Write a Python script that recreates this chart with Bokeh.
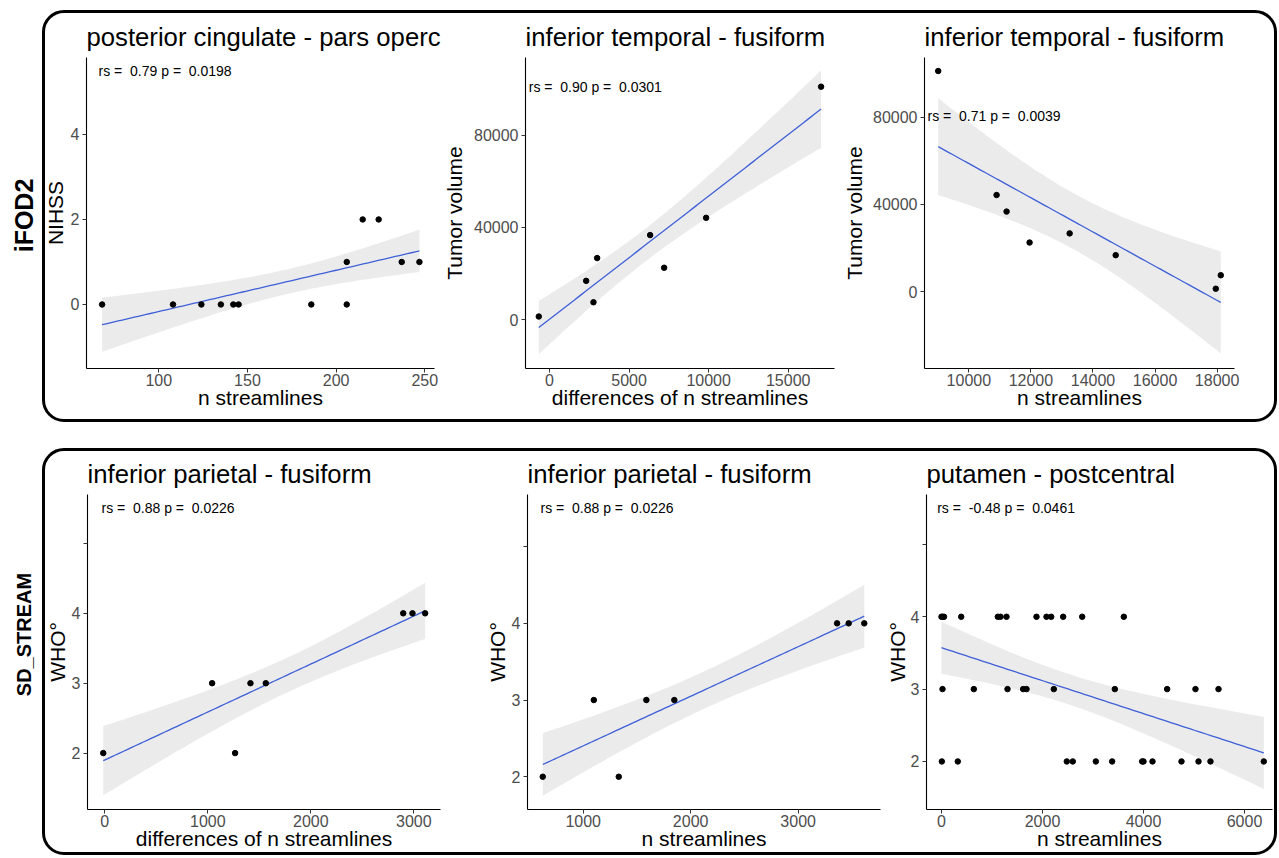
import numpy as np
from bokeh.plotting import figure
from bokeh.layouts import row, column, Spacer
from bokeh.models import Range1d, FixedTicker
from bokeh.core.properties import value
from bokeh.embed import file_html
from bokeh.resources import INLINE

FONT = "Liberation Sans"
NB = "\u00a0"

# ---------------- data ----------------
row_labels = ["iFOD2", "SD_STREAM"]

p1_title = "posterior cingulate - pars operc"
p1_x = [68, 108, 124, 135, 142, 145, 186, 206, 206, 215, 224, 237, 247]
p1_y = [0, 0, 0, 0, 0, 0, 0, 0, 1, 2, 2, 1, 1]
p1_xlabel, p1_ylabel = "n streamlines", "NIHSS"
p1_stat = "rs = " + NB + "0.79 p = " + NB + "0.0198"
p1_xticks, p1_yticks = [100, 150, 200, 250], [0, 2, 4]

p2_title = "inferior temporal - fusiform"
p2_x = [-672, 2305, 2764, 2996, 6325, 7205, 9843, 17067]
p2_y = [1300, 16800, 7500, 26700, 36700, 22500, 44200, 101200]
p2_xlabel, p2_ylabel = "differences of n streamlines", "Tumor volume"
p2_stat = "rs = " + NB + "0.90 p = " + NB + "0.0301"
p2_xticks, p2_yticks = [0, 5000, 10000, 15000], [0, 40000, 80000]

p3_title = "inferior temporal - fusiform"
p3_x = [9013, 10894, 11216, 11957, 13248, 14732, 17957, 18118]
p3_y = [101200, 44300, 36700, 22500, 26700, 16700, 1300, 7500]
p3_xlabel, p3_ylabel = "n streamlines", "Tumor volume"
p3_stat = "rs = " + NB + "0.71 p = " + NB + "0.0039"
p3_xticks, p3_yticks = [10000, 12000, 14000, 16000, 18000], [0, 40000, 80000]

p4_title = "inferior parietal - fusiform"
p4_x = [-15, 1042, 1265, 1414, 1563, 2897, 2987, 3110]
p4_y = [2, 3, 2, 3, 3, 4, 4, 4]
p4_xlabel, p4_ylabel = "differences of n streamlines", "WHO°"
p4_stat = "rs = " + NB + "0.88 p = " + NB + "0.0226"
p4_xticks, p4_yticks = [0, 1000, 2000, 3000], [2, 3, 4, 5]

p5_title = "inferior parietal - fusiform"
p5_x = [624, 1099, 1331, 1588, 1848, 3362, 3470, 3615]
p5_y = [2, 3, 2, 3, 3, 4, 4, 4]
p5_xlabel, p5_ylabel = "n streamlines", "WHO°"
p5_stat = "rs = " + NB + "0.88 p = " + NB + "0.0226"
p5_xticks, p5_yticks = [1000, 2000, 3000], [2, 3, 4, 5]

p6_title = "putamen - postcentral"
p6_x = [0, 25, 50, 390, 1115, 1168, 1287, 1881, 2079, 2172, 2409, 2786, 3610,
        20, 640, 1307, 1617, 1683, 2224, 3432, 4468, 5029, 5485,
        7, 323, 2481, 2600, 3056, 3379, 3973, 4000, 4178, 4752, 5089, 5326, 6382]
p6_y = [4] * 13 + [3] * 10 + [2] * 13
p6_xlabel, p6_ylabel = "n streamlines", "WHO°"
p6_stat = "rs = " + NB + "-0.48 p = " + NB + "0.0461"
p6_xticks, p6_yticks = [0, 2000, 4000, 6000], [2, 3, 4, 5]

# t quantiles (0.95) -> 90 % confidence band around the linear fit
T_Q = {6: 1.943180, 11: 1.795885, 33: 1.692360}


def fit_band(xs, ys, n=80):
    x = np.asarray(xs, float)
    y = np.asarray(ys, float)
    N = len(x)
    xm = x.mean()
    sxx = ((x - xm) ** 2).sum()
    b = ((x - xm) * (y - y.mean())).sum() / sxx
    a = y.mean() - b * xm
    res = y - (a + b * x)
    s = np.sqrt((res ** 2).sum() / (N - 2))
    gx = np.linspace(x.min(), x.max(), n)
    fit = a + b * gx
    se = s * np.sqrt(1.0 / N + (gx - xm) ** 2 / sxx)
    t = T_Q.get(N - 2, 1.645)
    return gx, fit, fit - t * se, fit + t * se


def panel(title, xs, ys, xlabel, ylabel, stat, xticks, yticks,
          xr, yr, stat_xy, w, h, bl, br, bt, bb, blank_top=False,
          ylab_standoff=2, shift=0):
    kw = {}
    if shift:
        kw["styles"] = {"margin-left": "-%dpx" % shift}
    p = figure(width=w, height=h, x_range=Range1d(*xr), y_range=Range1d(*yr),
               output_backend="svg", toolbar_location=None, title=title,
               min_border_left=bl, min_border_right=br,
               min_border_top=bt, min_border_bottom=bb, **kw)
    p.title.text_font = FONT
    p.title.text_font_size = "25.7px"
    p.title.text_font_style = "normal"
    p.title.text_color = "black"
    p.title.align = "left"
    p.title.standoff = 13
    p.grid.visible = False
    p.outline_line_color = None
    p.background_fill_color = "white"
    p.border_fill_color = None

    for ax in (p.xaxis[0], p.yaxis[0]):
        ax.axis_label_text_font = FONT
        ax.axis_label_text_font_size = "21px"
        ax.axis_label_text_font_style = "normal"
        ax.axis_label_text_color = "black"
        ax.major_label_text_font = FONT
        ax.major_label_text_font_size = "16px"
        ax.major_label_text_color = "#4D4D4D"
        ax.minor_tick_line_color = None
        ax.major_tick_out = 4
        ax.major_tick_in = 0
        ax.major_tick_line_color = "#333333"
        ax.axis_line_color = "black"
        ax.axis_line_width = 1.1
        ax.major_label_standoff = 3
    p.xaxis.major_label_standoff = 1
    p.xaxis.axis_label_standoff = -3
    p.yaxis.axis_label_standoff = ylab_standoff
    p.xaxis.axis_label = xlabel
    p.yaxis.axis_label = ylabel
    p.xaxis.ticker = FixedTicker(ticks=xticks)
    p.yaxis.ticker = FixedTicker(ticks=yticks)
    if blank_top:
        p.yaxis.major_label_overrides = {yticks[-1]: ""}

    gx, fit, lo, hi = fit_band(xs, ys)
    p.varea(x=gx, y1=lo, y2=hi, fill_color="#EBEBEB")
    p.line(gx, fit, line_color="#3F60D8", line_width=1.3)
    p.scatter(xs, ys, size=5.5, fill_color="black", line_color="black")
    p.text(x=[stat_xy[0]], y=[stat_xy[1]], text=[stat], text_font=value(FONT),
           text_font_size="14px", text_align="left", text_baseline="middle",
           text_color="black")
    return p


TOP_H, BOT_H = 406, 401

# top row: F1 39..442, F2 439..840, F3 839..1274
f1 = panel(p1_title, p1_x, p1_y, p1_xlabel, p1_ylabel, p1_stat, p1_xticks, p1_yticks,
           (59.2, 255.5), (-1.506, 5.81), (66, 5.49), 403, TOP_H, 47, 8, 44, 51,
           ylab_standoff=1, shift=6)
f2 = panel(p2_title, p2_x, p2_y, p2_xlabel, p2_ylabel, p2_stat, p2_xticks, p2_yticks,
           (-1507, 17910), (-21300, 113900), (-1300, 101000), 401, TOP_H, 86, 6, 44, 51,
           ylab_standoff=5, shift=3)
f3 = panel(p3_title, p3_x, p3_y, p3_xlabel, p3_ylabel, p3_stat, p3_xticks, p3_yticks,
           (8571, 18560), (-35300, 107400), (8668, 80700), 435, TOP_H, 85, 40, 44, 51,
           ylab_standoff=4, shift=1)

# bottom row: F4 42..445, F5 445..884, F6 882..1274
f4 = panel(p4_title, p4_x, p4_y, p4_xlabel, p4_ylabel, p4_stat, p4_xticks, p4_yticks,
           (-168, 3259), (1.193, 5.70), (-32, 5.5), 403, BOT_H, 45, 5, 41, 43, True,
           ylab_standoff=0, shift=3)
f5 = panel(p5_title, p5_x, p5_y, p5_xlabel, p5_ylabel, p5_stat, p5_xticks, p5_yticks,
           (482, 3766), (1.573, 5.68), (603, 5.5), 439, BOT_H, 82, 4, 41, 43, True,
           ylab_standoff=0)
f6 = panel(p6_title, p6_x, p6_y, p6_xlabel, p6_ylabel, p6_stat, p6_xticks, p6_yticks,
           (-297, 6554), (1.336, 5.69), (-85, 5.5), 392, BOT_H, 44, 2, 41, 43, True,
           ylab_standoff=-1, shift=2)


def row_label(text, h, yc, size):
    lab = figure(width=42, height=h, x_range=Range1d(0, 42), y_range=Range1d(0, h),
                 x_axis_type=None, y_axis_type=None, min_border=0,
                 output_backend="svg", toolbar_location=None)
    lab.grid.visible = False
    lab.outline_line_color = None
    lab.text(x=[23], y=[yc], text=[text], angle=np.pi / 2, text_align="center",
             text_baseline="middle", text_font=value(FONT), text_font_style="bold",
             text_font_size=size, text_color="black")
    return lab


lab1 = row_label(row_labels[0], TOP_H + 6, 207, "25px")
lab2 = row_label(row_labels[1], BOT_H + 6, 221, "20px")

box_style = {"border": "3px solid black", "border-radius": "22px", "overflow": "hidden",
             "background-color": "white"}
box1 = row(f1, f2, f3, styles=box_style)
box2 = row(f4, f5, f6, styles=box_style)

layout = column(Spacer(height=10), row(lab1, box1), Spacer(height=26), row(lab2, box2))

open("out.html", "w").write(file_html(layout, INLINE))
